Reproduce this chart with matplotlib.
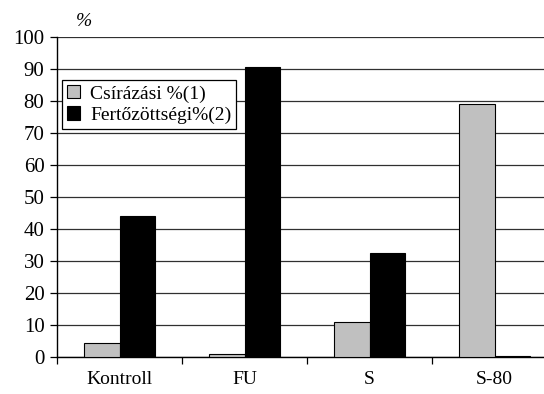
import matplotlib
matplotlib.use('Agg')
import matplotlib.pyplot as plt
import numpy as np

categories = ['Kontroll', 'FU', 'S', 'S-80']
csirazasi = [4.5, 0.8, 11.0, 79.0]
fertozottsegi = [44.0, 90.5, 32.5, 0.3]
labels = ['Csírázási %(1)', 'Fertőzöttségi%(2)']

plt.rcParams['font.family'] = ['Liberation Serif', 'DejaVu Serif']

fig = plt.figure(figsize=(5.44, 3.94), dpi=100)
# axes deliberately runs past the right edge, like the cropped original
ax = fig.add_axes([57/544, 37/394, 500/544, 320/394])

x = np.arange(len(categories))
w = 0.285
ax.bar(x - w/2, csirazasi, w, color='#c0c0c0', edgecolor='black', linewidth=0.8, label=labels[0], zorder=3)
ax.bar(x + w/2, fertozottsegi, w, color='black', edgecolor='black', linewidth=0.8, label=labels[1], zorder=3)

ax.set_xlim(-0.5, len(categories) - 0.5)
ax.set_ylim(0, 100)
ax.set_yticks(range(0, 101, 10))
ax.yaxis.grid(True, color='#303030', linewidth=0.9, zorder=0)

ax.set_xticks(x)
ax.set_xticklabels(categories)
ax.set_xticks(np.arange(-0.5, len(categories), 1), minor=True)
ax.tick_params(axis='x', which='major', length=0, pad=10, labelsize=14)
ax.tick_params(axis='x', which='minor', length=5, width=0.9, direction='out')
ax.tick_params(axis='y', length=5, width=0.9, direction='out', labelsize=15, pad=4)

for s in ['top', 'right']:
    ax.spines[s].set_visible(False)
ax.spines['left'].set_linewidth(1.0)
ax.spines['bottom'].set_linewidth(1.0)

fig.text(84/544, 1 - 22/394, '%', fontsize=14, style='italic', ha='center', va='center')

leg = ax.legend(loc='upper left', bbox_to_anchor=(5/500, 1 - 43/320), fontsize=14,
                frameon=True, fancybox=False, edgecolor='black', framealpha=1,
                handlelength=0.7, handleheight=0.7, handletextpad=0.5,
                borderpad=0.25, labelspacing=0.2, borderaxespad=0)
leg.get_frame().set_linewidth(0.9)

fig.savefig('out.png', dpi=100)
